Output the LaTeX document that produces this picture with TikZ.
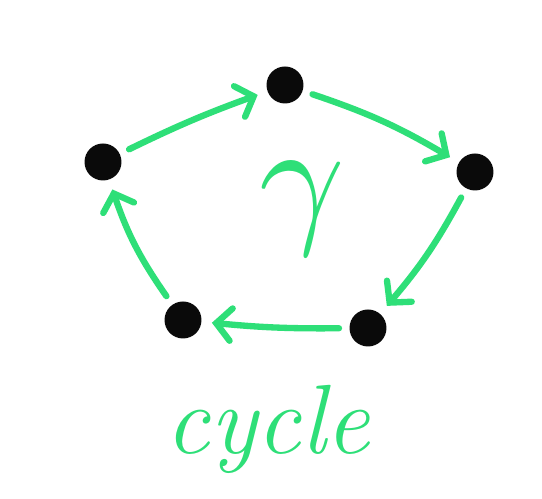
\documentclass[tikz,border=0pt]{standalone}
\usetikzlibrary{arrows.meta, positioning}
\definecolor{verdeMarcador}{HTML}{2EDF78}
\definecolor{negroTinta}{HTML}{0A0A0A}
\tikzset{
  punto/.style={circle, fill=negroTinta, minimum size=0.74cm, inner sep=0pt,
    outer sep=6pt},
  flechaCiclo/.style={-{Straight Barb[length=3mm, width=6.5mm, line cap=round]},
    line width=3.6pt, line cap=round, draw=verdeMarcador, bend left=6},
  etiquetaVerde/.style={text=verdeMarcador, inner sep=0pt},
}
\begin{document}
\begin{tikzpicture}[x=0.02cm, y=0.02cm]
    \fill[white] (0,0) rectangle (542,499);
    \useasboundingbox (0,0) rectangle (542,499);
    % los cinco vertices
    \node[punto] (vSup) at (285,414) {};
    \node[punto] (vIzq) at (103,337) {};
    \node[punto] (vDer) at (475,327) {};
    \node[punto] (vInfDer) at (368,171) {};
    \node[punto] (vInfIzq) at (183,179) {};
    % el ciclo
    \draw[flechaCiclo, bend left=3] (vIzq) to (vSup);
    \draw[flechaCiclo] (vSup) to (vDer);
    \draw[flechaCiclo] (vDer) to (vInfDer);
    \draw[flechaCiclo, bend left=3] (vInfDer) to (vInfIzq);
    \draw[flechaCiclo, bend left=8] (vInfIzq) to (vIzq);
    % textos
    \node[etiquetaVerde] (gamma) at (302,290) {\scalebox{8.5}{$\gamma$}};
    \node[etiquetaVerde, font=\fontsize{56}{56}\selectfont\itshape] (ciclo) at (268,70) {cycle};
\end{tikzpicture}
\end{document}
